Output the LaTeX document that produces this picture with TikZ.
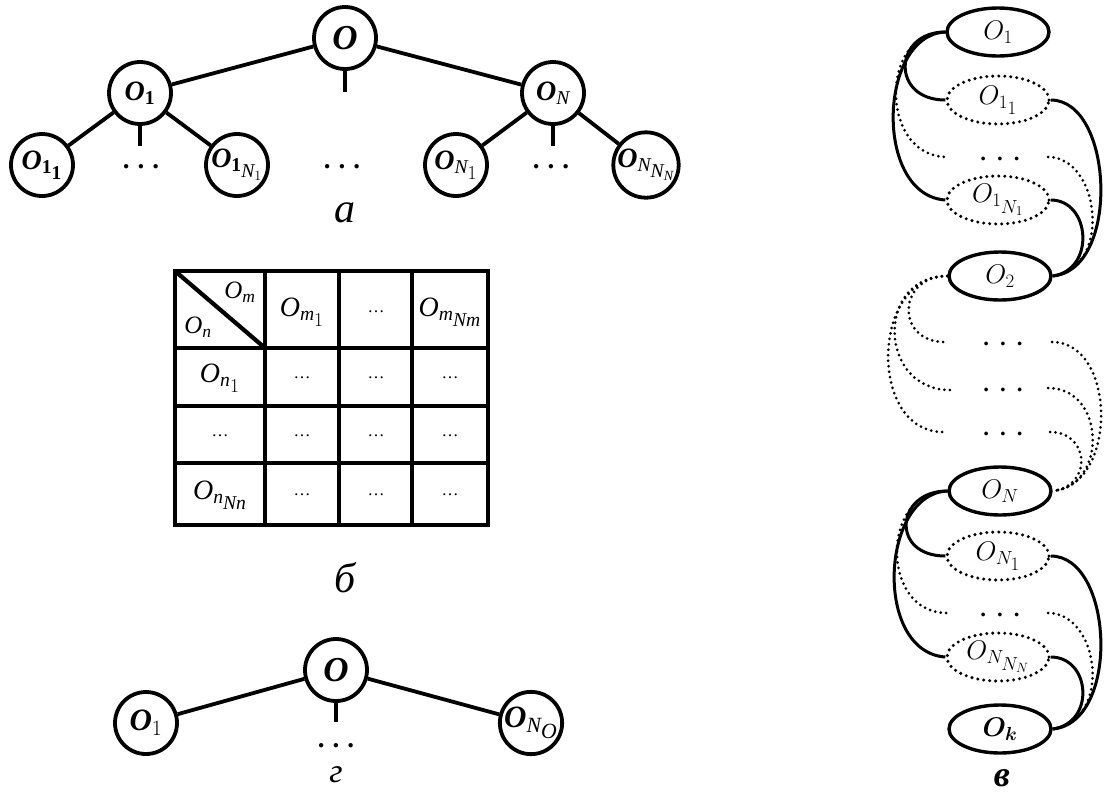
\RequirePackage{fix-cm}
\documentclass[tikz,border=0pt]{standalone}
\usepackage{amsmath,bm}
\usepackage{fontspec}
\setmainfont{Liberation Serif}
\DeclareMathAlphabet{\mathbi}{TU}{\rmdefault}{b}{it}
\usetikzlibrary{shapes.geometric}
\begin{document}
\begin{tikzpicture}[x=1pt,y=-1pt,
  tnode/.style={circle,draw,line width=3.8pt,minimum size=62pt,inner sep=0pt,font=\fontsize{28}{30}\selectfont},
  troot/.style={tnode,font=\fontsize{35}{38}\selectfont},
  edge/.style={line width=3.8pt},
  tdots/.style={font=\fontsize{27}{30}\selectfont\bfseries,inner sep=0pt},
  capt/.style={font=\fontsize{42}{46}\selectfont\itshape,inner sep=0pt},
  tab/.style={font=\fontsize{28}{32}\selectfont,inner sep=0pt},
  tabdots/.style={font=\fontsize{17}{20}\selectfont,inner sep=0pt},
  grid/.style={line width=4.2pt},
  solidel/.style={ellipse,draw,line width=3.4pt,minimum width=102pt,minimum height=48pt,inner sep=0pt,font=\fontsize{27}{30}\selectfont},
  dotel/.style={solidel,dash pattern=on 0pt off 6pt,line cap=round},
  sc/.style={line width=3pt},
  dc/.style={line width=3pt,dash pattern=on 0pt off 5.5pt,line cap=round},
  vdots/.style={font=\fontsize{23}{26}\selectfont\bfseries,inner sep=0pt},
]
\useasboundingbox (0,0) rectangle (1106,796);

% ---------- tree a ----------
\node[troot] (A0) at (345,38) {$\mathbi{O}$};
\node[tnode] (A1) at (140,93) {$\mathbi{O}_{\mathbf{1}}$};
\node[tnode] (AN) at (553,93) {$\mathbi{O}_{\mathit{N}}$};
\node[tnode] (A11) at (42,165) {$\mathbi{O}_{\mathbf{1}_{\scriptstyle\mathbf{1}}}$};
\node[tnode] (A1N) at (237,165) {$\mathbi{O}_{\mathbf{1}_{\scriptstyle\mathit{N}_1}}$};
\node[tnode] (AN1) at (456,165) {$\mathbi{O}_{\mathit{N}_{\scriptstyle 1}}$};
\node[tnode] (ANN) at (646,165) {$\mathbi{O}_{\mathit{N}_{\scriptstyle\mathit{N}_{\mathit{N}}}}$};
\node[tdots] (Ad1) at (141,167) {.\hspace{8pt}.\hspace{8pt}.};
\node[tdots] (Ad2) at (342,167) {.\hspace{8pt}.\hspace{8pt}.};
\node[tdots] (Ad3) at (551,167) {.\hspace{8pt}.\hspace{8pt}.};
\coordinate (At0) at (345,92);
\coordinate (At1) at (140,146);
\coordinate (AtN) at (553,146);
\draw[edge] (A0) -- (A1);
\draw[edge] (A0) -- (AN);
\draw[edge] (A1) -- (A11);
\draw[edge] (A1) -- (A1N);
\draw[edge] (AN) -- (AN1);
\draw[edge] (AN) -- (ANN);
\draw[edge] (A0.south) -- (At0);
\draw[edge] (A1.south) -- (At1);
\draw[edge] (AN.south) -- (AtN);
\node[capt] (Acap) at (345,213) {а};

% ---------- table b ----------
\draw[grid] (175,271) rectangle (488,525);
\draw[grid] (265,271) -- (265,525);
\draw[grid] (339,271) -- (339,525);
\draw[grid] (412,271) -- (412,525);
\draw[grid] (175,348) -- (488,348);
\draw[grid] (175,406) -- (488,406);
\draw[grid] (175,463) -- (488,463);
\draw[grid] (175,271) -- (265,348);
\node[tab,font=\fontsize{25}{28}\selectfont] (Tm) at (240,292) {$\mathit{O}_{\scriptstyle\mathit{m}}$};
\node[tab,font=\fontsize{25}{28}\selectfont] (Tn) at (198,327) {$\mathit{O}_{\scriptstyle\mathit{n}}$};
\node[tab] (Tm1) at (302,312) {$\mathit{O}_{\mathit{m}_{\scriptstyle 1}}$};
\node[tabdots] (Th2) at (376,312) {\ldots};
\node[tab] (TmN) at (450,312) {$\mathit{O}_{\mathit{m}_{\scriptstyle\mathit{Nm}}}$};
\node[tab] (Tn1) at (220,378) {$\mathit{O}_{\mathit{n}_{\scriptstyle 1}}$};
\node[tab] (TnN) at (220,495) {$\mathit{O}_{\mathit{n}_{\scriptstyle\mathit{Nn}}}$};
\node[tabdots] (Tr3) at (220,436) {\ldots};
\foreach \cx in {302,376,450} {
  \foreach \cy in {378,436,495} {
    \node[tabdots] (T\cx-\cy) at (\cx,\cy) {\ldots};
  }
}
\node[capt] (Bcap) at (345,578) {б};

% ---------- tree g ----------
\node[troot] (G0) at (336,670) {$\mathbi{O}$};
\node[tnode,font=\fontsize{31}{34}\selectfont] (G1) at (146,723) {$\mathbi{O}_1$};
\node[tnode,font=\fontsize{31}{34}\selectfont] (GN) at (531,723) {$\mathbi{O}_{\mathit{N}_{\scriptstyle\mathit{O}}}$};
\coordinate (Gt) at (336,722);
\draw[edge] (G0) -- (G1);
\draw[edge] (G0) -- (GN);
\draw[edge] (G0.south) -- (Gt);
\node[tdots] (Gd) at (336,746) {.\hspace{8pt}.\hspace{8pt}.};
\node[capt,font=\fontsize{34}{36}\selectfont\itshape] (Gcap) at (336,775) {г};

% ---------- chain v ----------
\node[solidel] (V1) at (998,32) {$O_1$};
\node[dotel] (V11) at (998,100) {$O_{1_{\scriptstyle 1}}$};
\node[vdots] (Vd1) at (1000,159) {.\hspace{11pt}.\hspace{11pt}.};
\node[dotel] (V1N) at (998,200) {$O_{1_{\scriptstyle N_1}}$};
\node[solidel] (V2) at (1000,276) {$O_2$};
\node[vdots] (Vd2a) at (1003,344) {.\hspace{11pt}.\hspace{11pt}.};
\node[vdots] (Vd2b) at (1003,390) {.\hspace{11pt}.\hspace{11pt}.};
\node[vdots] (Vd2c) at (1003,434) {.\hspace{11pt}.\hspace{11pt}.};
\node[solidel] (VN) at (1000,491) {$O_N$};
\node[dotel] (VN1) at (998,556) {$O_{N_{\scriptstyle 1}}$};
\node[vdots] (Vd3) at (1000,615) {.\hspace{11pt}.\hspace{11pt}.};
\node[dotel] (VNN) at (998,657) {$O_{N_{\scriptstyle N_N}}$};
\node[solidel] (Vk) at (1000,729) {$\boldsymbol{O}_{\boldsymbol{k}}$};
\node[font=\fontsize{36}{40}\selectfont\bfseries\itshape,inner sep=0pt] (Vcap) at (1002,778) {в};

\coordinate (Vd1L) at (947,157);
\coordinate (Vd1R) at (1048,157);
\coordinate (Vd2aL) at (945,342);
\coordinate (Vd2aR) at (1052,342);
\coordinate (Vd2bL) at (950,390);
\coordinate (Vd2bR) at (1048,388);
\coordinate (Vd2cL) at (943,432);
\coordinate (Vd2cR) at (1050,432);
\coordinate (Vd3L) at (947,613);
\coordinate (Vd3R) at (1048,613);

% group 1
\draw[sc] (V1.west) .. controls +(-52,0) and +(-55,0) .. (V11.west);
\draw[dc] (V1.west) .. controls +(-67,0) and +(-67,0) .. (Vd1L);
\draw[sc] (V1.west) .. controls +(-67,3) and +(-72,-5) .. (V1N.west);
\draw[sc] (V11.east) .. controls +(63,0) and +(68,-6) .. (V2.east);
\draw[dc] (Vd1R) .. controls +(52,0) and +(60,-8) .. (V2.east);
\draw[sc] (V1N.east) .. controls +(40,0) and +(43,-6) .. (V2.east);
% group 2
\draw[dc] (V2.west) .. controls +(-50,0) and +(-50,0) .. (Vd2aL);
\draw[dc] (V2.west) .. controls +(-72,0) and +(-72,0) .. (Vd2bL);
\draw[dc] (V2.west) .. controls +(-77,0) and +(-75,0) .. (Vd2cL);
\draw[dc] (Vd2aR) .. controls +(65,0) and +(65,-5) .. (VN.east);
\draw[dc] (Vd2bR) .. controls +(58,0) and +(55,-5) .. (VN.east);
\draw[dc] (Vd2cR) .. controls +(40,0) and +(40,-5) .. (VN.east);
% group 3
\draw[sc] (VN.west) .. controls +(-52,0) and +(-55,0) .. (VN1.west);
\draw[dc] (VN.west) .. controls +(-67,0) and +(-67,0) .. (Vd3L);
\draw[sc] (VN.west) .. controls +(-67,3) and +(-72,-5) .. (VNN.west);
\draw[sc] (VN1.east) .. controls +(63,0) and +(68,-6) .. (Vk.east);
\draw[dc] (Vd3R) .. controls +(52,0) and +(60,-8) .. (Vk.east);
\draw[sc] (VNN.east) .. controls +(40,0) and +(43,-6) .. (Vk.east);
\end{tikzpicture}
\end{document}
